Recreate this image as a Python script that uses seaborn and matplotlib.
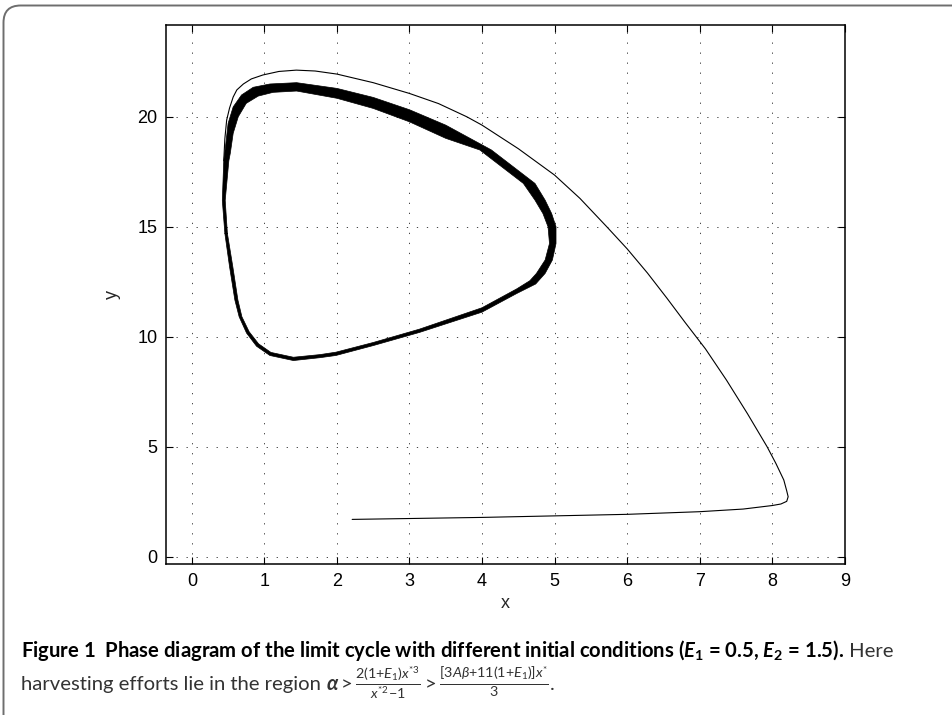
import matplotlib
matplotlib.use("Agg")
import matplotlib.pyplot as plt
import seaborn as sns
import numpy as np
import pandas as pd
from matplotlib.patches import FancyBboxPatch

# ---- data ----
trans_x = [2.21, 3.0, 4.0, 5.0, 6.0, 7.0, 7.6, 8.0, 8.12, 8.2, 8.22, 8.2, 8.16, 8.05, 7.93,
           7.66, 7.37, 7.08, 6.8, 6.55, 6.28, 6.0, 5.72, 5.35, 5.0, 4.5, 4.0, 3.79, 3.4,
           3.0, 2.5, 2.0, 1.7, 1.44, 1.2, 0.98, 0.82, 0.71, 0.62, 0.57, 0.52, 0.48, 0.455, 0.44]
trans_y = [1.70, 1.74, 1.79, 1.86, 1.93, 2.05, 2.17, 2.33, 2.40, 2.52, 2.73, 3.0, 3.49, 4.25, 5.0,
           6.5, 8.03, 9.45, 10.65, 11.75, 12.9, 14.0, 15.0, 16.29, 17.35, 18.55, 19.62, 20.0, 20.6,
           21.06, 21.55, 21.94, 22.08, 22.12, 22.06, 21.9, 21.72, 21.49, 21.22, 20.9, 20.4, 19.85, 19.0, 18.0]

outer_x = [0.455, 0.42, 0.44, 0.469, 0.50, 0.57, 0.685, 0.846, 1.076, 1.444, 2.0, 2.5, 3.0, 3.5,
           4.13, 4.73, 4.87, 4.96, 5.02, 5.02, 4.97, 4.87, 4.74, 4.48, 4.0, 3.14, 2.5, 1.986, 1.766,
           1.40, 1.076, 0.892, 0.754, 0.652, 0.593, 0.52]
outer_y = [14.7, 16.2, 18.0, 18.79, 19.7, 20.45, 20.99, 21.34, 21.49, 21.55, 21.29, 20.88, 20.32, 19.62,
           18.49, 16.97, 16.21, 15.6, 15.0, 14.24, 13.49, 12.88, 12.4, 11.97, 11.12, 10.2, 9.6, 9.15, 9.05,
           8.92, 9.15, 9.57, 10.17, 10.91, 11.67, 13.18]
inner_x = [0.49, 0.46, 0.51, 0.53, 0.57, 0.64, 0.75, 0.915, 1.12, 1.444, 2.0, 2.5, 3.0, 3.5,
           3.97, 4.57, 4.73, 4.84, 4.91, 4.93, 4.87, 4.75, 4.66, 4.48, 4.0, 3.14, 2.5, 1.986, 1.766,
           1.40, 1.09, 0.92, 0.79, 0.69, 0.635, 0.565]
inner_y = [14.7, 16.2, 18.0, 18.34, 19.25, 20.0, 20.61, 20.94, 21.11, 21.17, 20.84, 20.38, 19.77, 19.02,
           18.49, 16.97, 16.21, 15.6, 15.0, 14.24, 13.49, 12.88, 12.55, 12.18, 11.32, 10.35, 9.74, 9.3, 9.19,
           9.07, 9.29, 9.68, 10.23, 10.91, 11.67, 13.18]

x_ticks = [0, 1, 2, 3, 4, 5, 6, 7, 8, 9]
y_ticks = [0, 5, 10, 15, 20]

caption_bold = ("Figure 1  Phase diagram of the limit cycle with different initial conditions "
                r"($\mathbfit{E}_\mathbf{1}$ = 0.5, $\mathbfit{E}_\mathbf{2}$ = 1.5).")
caption_rest = " Here"
caption_line2 = "harvesting efforts lie in the region "
caption_math = (r"$\mathbfit{\alpha} > \frac{2(1{+}E_1)x^{*3}}{x^{*2}{-}1} > "
                r"\frac{[3A\beta{+}11(1{+}E_1)]x^{*}}{3}$.")

# ---- style ----
sns.set_theme(style="white")
plt.rcParams["font.family"] = ["Liberation Sans", "DejaVu Sans"]
plt.rcParams["mathtext.fontset"] = "custom"
plt.rcParams["mathtext.rm"] = "Lato"
plt.rcParams["mathtext.it"] = "Lato:italic"
plt.rcParams["mathtext.bf"] = "Lato:bold"
plt.rcParams["mathtext.bfit"] = "Lato:bold:italic"

fig = plt.figure(figsize=(9.53, 7.15), dpi=100)
ax = fig.add_axes([0.1739, 0.2108, 0.8864 - 0.1739, 0.965 - 0.2108])

# band of the limit cycle (ring between outer and inner boundary)
ring_x = list(outer_x) + [outer_x[0]] + [inner_x[0]] + list(inner_x[::-1])
ring_y = list(outer_y) + [outer_y[0]] + [inner_y[0]] + list(inner_y[::-1])
ax.fill(ring_x, ring_y, color="black", lw=0, zorder=3)

df_out = pd.DataFrame({"x": outer_x + [outer_x[0]], "y": outer_y + [outer_y[0]]})
df_in = pd.DataFrame({"x": inner_x + [inner_x[0]], "y": inner_y + [inner_y[0]]})
df_tr = pd.DataFrame({"x": trans_x, "y": trans_y})
for d, lw in [(df_out, 0.5), (df_in, 0.5), (df_tr, 0.8)]:
    sns.lineplot(data=d, x="x", y="y", sort=False, estimator=None, color="black",
                 lw=lw, ax=ax, zorder=4)

ax.set_xlim(-0.36, 9.0)
ax.set_ylim(-0.34, 24.17)
ax.set_xticks(x_ticks)
ax.set_yticks(y_ticks)
ax.set_xticklabels([str(t) for t in x_ticks])
ax.set_yticklabels([str(t) for t in y_ticks])
ax.tick_params(direction="in", length=5, width=0.8, colors="black", labelsize=13,
               top=True, right=True, bottom=True, left=True, pad=6)
ax.grid(True, color="#444444", linestyle=(0, (1.3, 9)), linewidth=0.7)
for s in ax.spines.values():
    s.set_color("black")
    s.set_linewidth(1.1)
ax.set_xlabel("x", fontsize=13, labelpad=4)
ax.set_ylabel("y", fontsize=13, labelpad=12)

# outer rounded frame
frame = FancyBboxPatch((3.5 / 953, -0.05), 1.2, (1 - 5.5 / 715) + 0.05,
                       boxstyle="round,pad=0,rounding_size=0.018",
                       transform=fig.transFigure, fill=False, edgecolor="#6e6e6e",
                       lw=1.4, clip_on=False, mutation_aspect=953 / 715)
fig.patches.append(frame)

# caption
cap_font = ["Lato", "DejaVu Sans"]
fs = 14.6
t1 = fig.text(21 / 953, 1 - 657 / 715, caption_bold, fontsize=fs, fontweight="bold",
              family=cap_font, ha="left", va="baseline", color="black")
fig.canvas.draw()
r = fig.canvas.get_renderer()
bb = t1.get_window_extent(r)
fig.text(bb.x1 / 953, 1 - 657 / 715, caption_rest, fontsize=fs, family=cap_font,
         ha="left", va="baseline", color="#333333")
t3 = fig.text(21 / 953, 1 - 690 / 715, caption_line2, fontsize=fs, family=cap_font,
              ha="left", va="baseline", color="#333333")
fig.canvas.draw()
bb3 = t3.get_window_extent(r)
fig.text(bb3.x1 / 953, 1 - 690 / 715, caption_math, fontsize=fs, family=cap_font,
         ha="left", va="baseline", color="#333333")

fig.savefig("out.png", dpi=100)
